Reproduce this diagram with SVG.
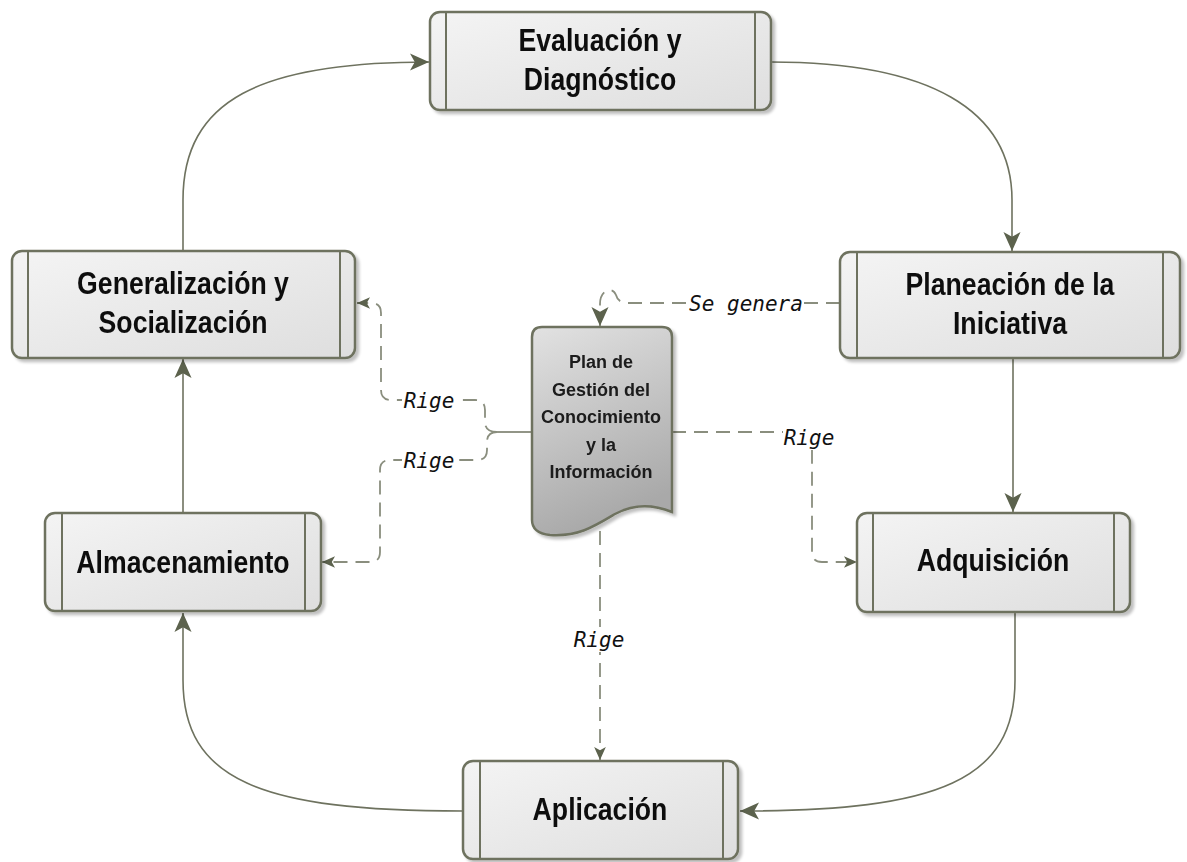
<svg xmlns="http://www.w3.org/2000/svg" width="1187" height="862" viewBox="0 0 1187 862">
<defs>
<linearGradient id="boxg" x1="0" y1="0" x2="1" y2="1">
<stop offset="0" stop-color="#f4f4f4"/>
<stop offset="1" stop-color="#dedede"/>
</linearGradient>
<linearGradient id="docg" x1="0" y1="0" x2="0.3" y2="1">
<stop offset="0" stop-color="#e2e2e2"/>
<stop offset="1" stop-color="#a9a9a9"/>
</linearGradient>
<filter id="sh" x="-10%" y="-10%" width="125%" height="130%">
<feGaussianBlur in="SourceAlpha" stdDeviation="1.5"/>
<feOffset dx="3" dy="3" result="o"/>
<feComponentTransfer><feFuncA type="linear" slope="0.25"/></feComponentTransfer>
<feMerge><feMergeNode/><feMergeNode in="SourceGraphic"/></feMerge>
</filter>
<marker id="ab" viewBox="0 0 20 20" refX="20" refY="10" markerUnits="userSpaceOnUse" markerWidth="19" markerHeight="19" orient="auto">
<path d="M0,1 L20,10 L0,19 L5,10 Z" fill="#5c624d"/>
</marker>
<marker id="as" viewBox="0 0 20 20" refX="20" refY="10" markerUnits="userSpaceOnUse" markerWidth="13" markerHeight="13" orient="auto">
<path d="M0,1 L20,10 L0,19 L5,10 Z" fill="#5c624d"/>
</marker>
</defs>
<style>
.box{fill:url(#boxg);stroke:#6e725f;stroke-width:2.5}
.div{stroke:#6e725f;stroke-width:2}
.doc{fill:url(#docg);stroke:#6e725f;stroke-width:2.5}
.t{font-family:"Liberation Sans",Arial,sans-serif;font-weight:bold;font-size:31px;fill:#111;text-anchor:middle}
.td{font-family:"Liberation Sans",Arial,sans-serif;font-weight:bold;font-size:18px;fill:#1a1a1a;text-anchor:middle}
.sol{fill:none;stroke:#6e725f;stroke-width:1.6}
.dsh{fill:none;stroke:#8a8e7e;stroke-width:1.8;stroke-dasharray:14 8}
.lb{font-family:"DejaVu Sans Mono",monospace;font-style:italic;font-size:21px;fill:#111;text-anchor:middle}
.lbg{fill:#fff}
</style>

<g id="connectors">
<path class="sol" d="M183,250 V200 C183,100 260,62 429,62" marker-end="url(#ab)"/>
<path class="sol" d="M771,62 C930,62 1012,110 1012,200 V251" marker-end="url(#ab)"/>
<path class="sol" d="M1013,358 V512" marker-end="url(#ab)"/>
<path class="sol" d="M1015,612 V680 C1015,780 940,811 740,811" marker-end="url(#ab)"/>
<path class="sol" d="M463,811 C260,811 183,780 183,680 V613" marker-end="url(#ab)"/>
<path class="sol" d="M183,513 V359" marker-end="url(#ab)"/>

<path class="dsh" d="M840,303 H628 Q618,303 616,295 Q613,288 606,291 Q600,295 600,304 L600,326" marker-end="url(#ab)"/>
<path class="sol" d="M532,432 H497"/>
<path class="dsh" d="M497,432 Q485,432 485,422 V410 Q485,400 475,400 H391 Q381,400 381,390 V313 Q381,303 371,303 H357" marker-end="url(#as)"/>
<path class="dsh" d="M497,432 Q487,432 487,442 V450 Q487,460 477,460 H390 Q380,460 380,470 V552 Q380,562 370,562 H322" marker-end="url(#as)"/>
<path class="dsh" d="M672,432 H802 Q812,432 812,442 V552 Q812,562 822,562 H857" marker-end="url(#as)"/>
<path class="dsh" d="M600,531 V760" marker-end="url(#as)"/>

<rect class="lbg" x="688" y="291" width="116" height="25"/>
<text class="lb" x="746" y="311">Se genera</text>
<rect class="lbg" x="402" y="388" width="54" height="25"/>
<text class="lb" x="429" y="408">Rige</text>
<rect class="lbg" x="402" y="448" width="54" height="25"/>
<text class="lb" x="429" y="468">Rige</text>
<rect class="lbg" x="783" y="425" width="52" height="25"/>
<text class="lb" x="809" y="445">Rige</text>
<rect class="lbg" x="572" y="627" width="54" height="25"/>
<text class="lb" x="599" y="647">Rige</text>
</g>

<g id="eval" filter="url(#sh)">
<rect class="box" x="430" y="12" width="341" height="98" rx="10"/>
<line class="div" x1="446" y1="12" x2="446" y2="110"/>
<line class="div" x1="755" y1="12" x2="755" y2="110"/>
<text class="t" transform="translate(600,51) scale(0.86,1)">Evaluación y</text>
<text class="t" transform="translate(600,90) scale(0.86,1)">Diagnóstico</text>
</g>

<g id="gen" filter="url(#sh)">
<rect class="box" x="12" y="251" width="343" height="107" rx="10"/>
<line class="div" x1="28" y1="251" x2="28" y2="358"/>
<line class="div" x1="340" y1="251" x2="340" y2="358"/>
<text class="t" transform="translate(183,294) scale(0.86,1)">Generalización y</text>
<text class="t" transform="translate(183,333) scale(0.86,1)">Socialización</text>
</g>

<g id="plan" filter="url(#sh)">
<rect class="box" x="840" y="252" width="340" height="106" rx="10"/>
<line class="div" x1="857" y1="252" x2="857" y2="358"/>
<line class="div" x1="1163" y1="252" x2="1163" y2="358"/>
<text class="t" transform="translate(1010,295) scale(0.86,1)">Planeación de la</text>
<text class="t" transform="translate(1010,334) scale(0.86,1)">Iniciativa</text>
</g>

<g id="alm" filter="url(#sh)">
<rect class="box" x="45" y="513" width="276" height="98" rx="10"/>
<line class="div" x1="62" y1="513" x2="62" y2="611"/>
<line class="div" x1="305" y1="513" x2="305" y2="611"/>
<text class="t" transform="translate(183,573) scale(0.86,1)">Almacenamiento</text>
</g>

<g id="adq" filter="url(#sh)">
<rect class="box" x="857" y="513" width="273" height="99" rx="10"/>
<line class="div" x1="873" y1="513" x2="873" y2="612"/>
<line class="div" x1="1114" y1="513" x2="1114" y2="612"/>
<text class="t" transform="translate(993,571) scale(0.86,1)">Adquisición</text>
</g>

<g id="apl" filter="url(#sh)">
<rect class="box" x="463" y="761" width="275" height="98" rx="10"/>
<line class="div" x1="480" y1="761" x2="480" y2="859"/>
<line class="div" x1="723" y1="761" x2="723" y2="859"/>
<text class="t" transform="translate(600,820) scale(0.86,1)">Aplicación</text>
</g>

<g id="doc" filter="url(#sh)">
<path class="doc" d="M542,327 H662 Q672,327 672,337 V512 C655,505 635,503 615,514 C595,526 578,537 550,535 Q532,533 532,520 V337 Q532,327 542,327 Z"/>
<text class="td" x="601" y="368">Plan de</text>
<text class="td" x="601" y="396">Gestión del</text>
<text class="td" x="601" y="423">Conocimiento</text>
<text class="td" x="601" y="451">y la</text>
<text class="td" x="601" y="478">Información</text>
</g>
</svg>
